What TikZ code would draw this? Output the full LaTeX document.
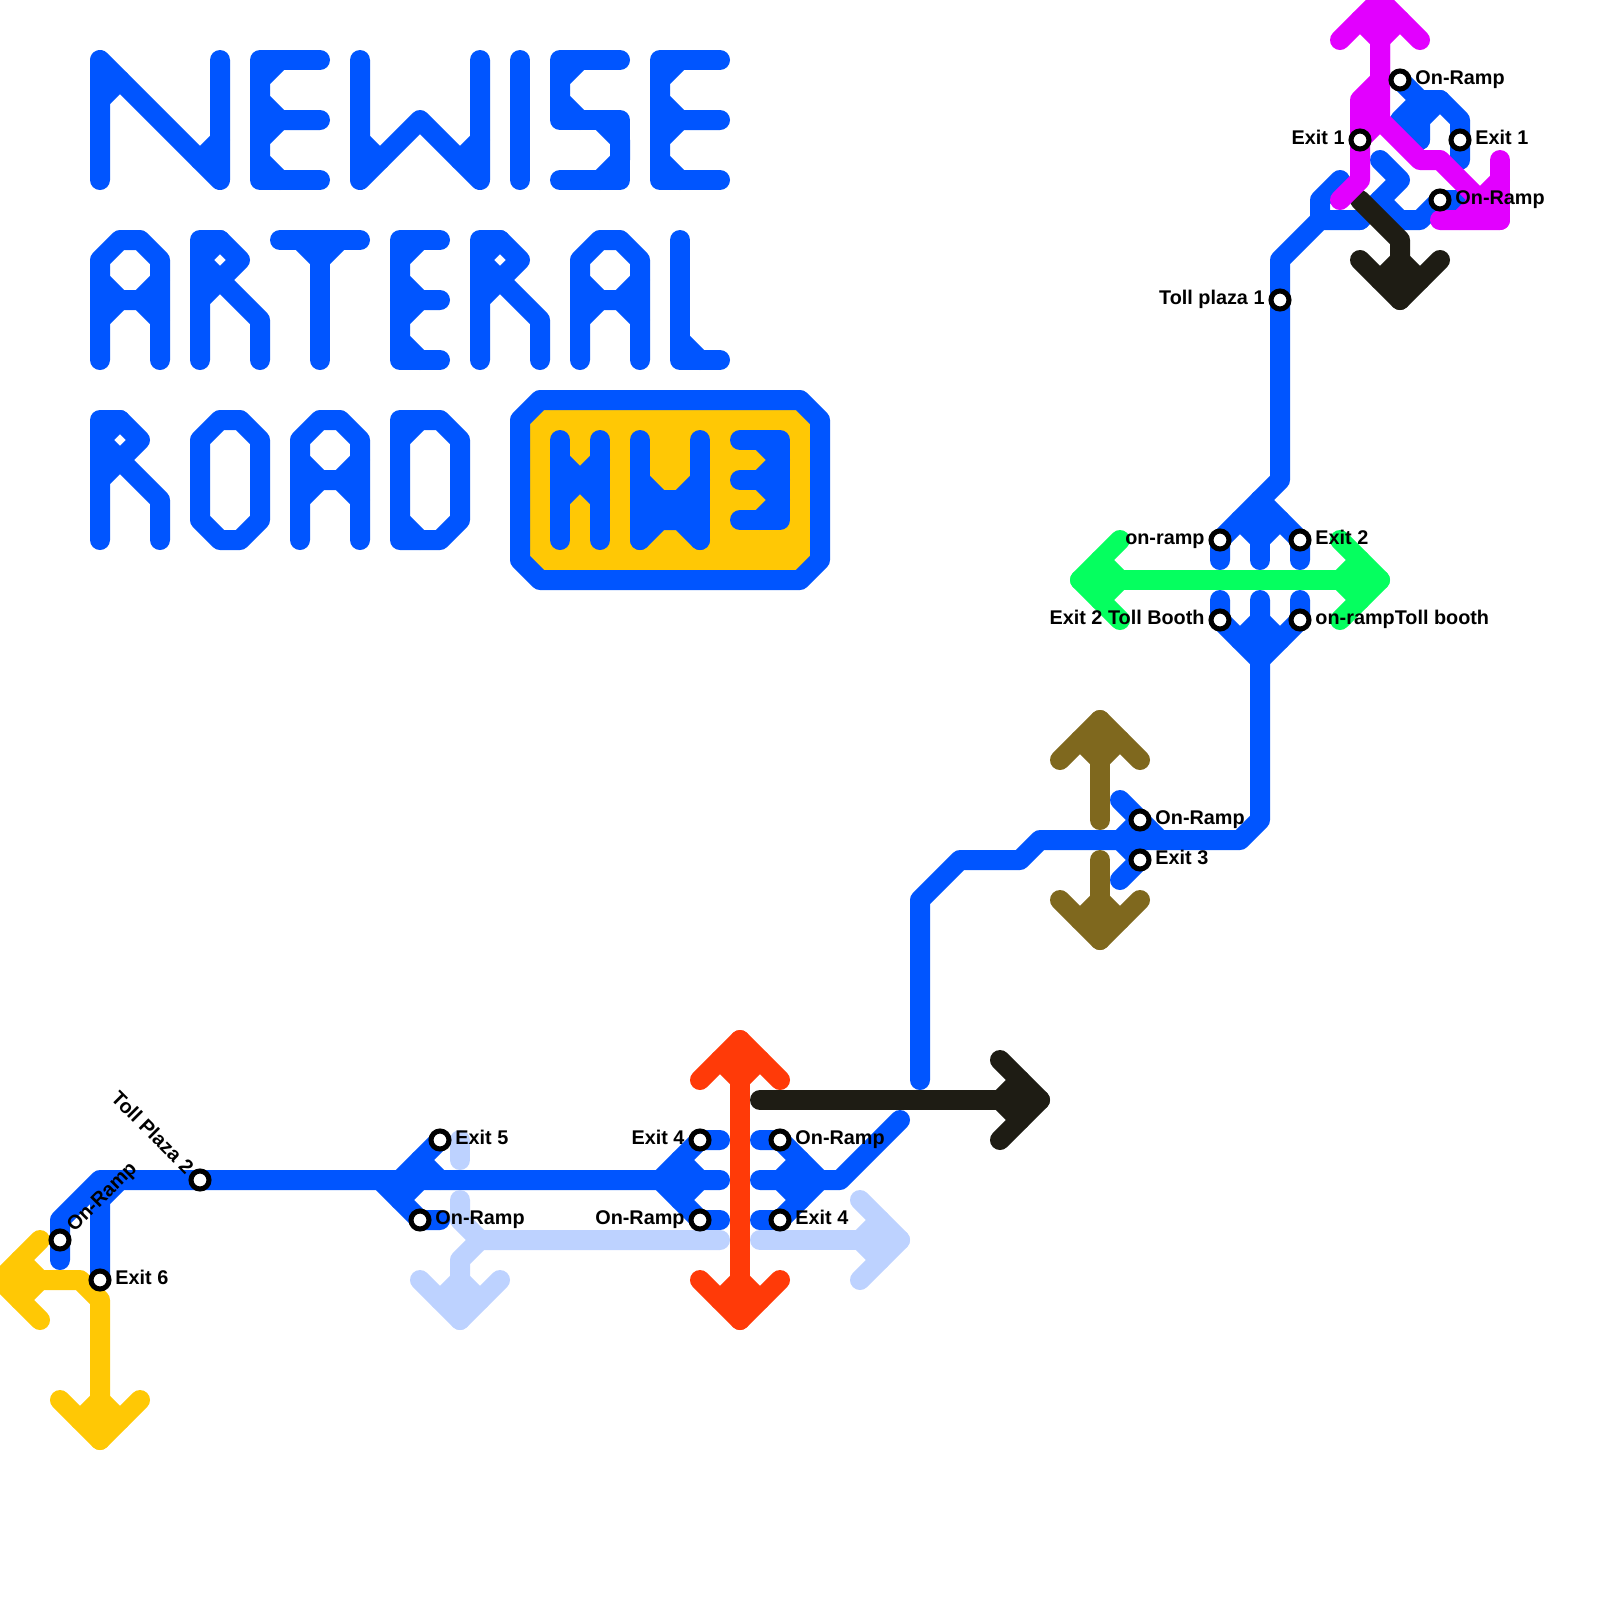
\documentclass[tikz,border=0pt]{standalone}
\usepackage{fontspec}
\setmainfont{Liberation Sans}
\definecolor{roadblue}{RGB}{0,85,255}
\definecolor{roadlight}{RGB}{189,210,255}
\definecolor{roadamber}{RGB}{255,200,5}
\definecolor{roadred}{RGB}{255,58,8}
\definecolor{roadgreen}{RGB}{5,255,95}
\definecolor{roadolive}{RGB}{127,104,30}
\definecolor{roaddark}{RGB}{30,28,20}
\definecolor{roadpink}{RGB}{226,0,255}
\tikzset{
  road/.style={line width=0.25cm,line cap=round,line join=round},
  stop/.style={circle,draw=black,fill=white,line width=1.8pt,minimum size=0.225cm,inner sep=0pt},
  stoplabel/.style={font=\fontsize{7.05pt}{8pt}\selectfont\bfseries,inner sep=0pt,text height=3.3pt,text depth=0pt},
  head/.pic={
    \draw[road] (-2,2)--(0,0)--(2,2);
    \draw[road] (-1,1)--(0,2)--(1,1);
  },
  letterN/.pic={
    \draw[road] (0,6)--(0,0)--(6,6)--(6,0);
    \draw[road] (0,2)--(1,1);
    \draw[road] (6,4)--(5,5);
  },
  pics/letterE/.style={code={
    \draw[road] (#1,0)--(0,0)--(0,6)--(#1,6);
    \draw[road] (1,0)--(0,1)--(0,2)--(1,3)--(#1,3);
    \draw[road] (1,3)--(0,4)--(0,5)--(1,6);
  }},
  letterW/.pic={
    \draw[road] (0,0)--(0,6)--(3,3)--(6,6)--(6,0);
    \draw[road] (0,4)--(1,5);
    \draw[road] (6,4)--(5,5);
  },
  letterI/.pic={\draw[road] (0,0)--(0,6);},
  letterS/.pic={
    \draw[road] (3,0)--(0,0)--(0,3)--(3,3)--(3,6)--(0,6);
    \draw[road] (1,0)--(0,1)--(0,2)--(1,3);
    \draw[road] (2,3)--(3,4)--(3,5)--(2,6);
  },
  letterA/.pic={
    \draw[road] (0,6)--(0,1)--(1,0)--(2,0)--(3,1)--(3,6);
    \draw[road] (0,2)--(1,3)--(2,3)--(3,2);
    \draw[road] (0,4)--(1,3);
    \draw[road] (2,3)--(3,4);
  },
  letterR/.pic={
    \draw[road] (0,6)--(0,0)--(1,0)--(2,1)--(0,3);
    \draw[road] (1,0)--(0,1)--(3,4)--(3,6);
  },
  letterT/.pic={
    \draw[road] (0,0)--(4,0);
    \draw[road] (2,6)--(2,1);
    \draw[road] (1,0)--(2,1)--(3,0);
  },
  letterL/.pic={
    \draw[road] (0,0)--(0,6)--(2,6);
    \draw[road] (0,5)--(1,6);
  },
  letterO/.pic={
    \draw[road] (1,0)--(2,0)--(3,1)--(3,5)--(2,6)--(1,6)--(0,5)--(0,1)--cycle;
  },
  letterD/.pic={
    \draw[road] (0,0)--(2,0)--(3,1)--(3,5)--(2,6)--(0,6)--cycle;
    \draw[road] (1,0)--(0,1);
    \draw[road] (0,5)--(1,6);
  },
}
\begin{document}
\begin{tikzpicture}[x=0.25cm,y=-0.25cm]
  \useasboundingbox (0,0) rectangle (80,80);
  % title
  \begin{scope}[color=roadblue]
    \pic at (5,3) {letterN};
    \pic at (13,3) {letterE=3};
    \pic at (18,3) {letterW};
    \pic at (26,3) {letterI};
    \pic at (28,3) {letterS};
    \pic at (33,3) {letterE=3};
    \pic at (5,12) {letterA};
    \pic at (10,12) {letterR};
    \pic at (14,12) {letterT};
    \pic at (20,12) {letterE=2};
    \pic at (24,12) {letterR};
    \pic at (29,12) {letterA};
    \pic at (34,12) {letterL};
    \pic at (5,21) {letterR};
    \pic at (10,21) {letterO};
    \pic at (15,21) {letterA};
    \pic at (20,21) {letterD};
    % shield
    \draw[road,fill=roadamber] (27,20)--(40,20)--(41,21)--(41,28)--(40,29)--(27,29)--(26,28)--(26,21)--cycle;
    \draw[road] (28,22)--(28,27);
    \draw[road] (30,22)--(30,27);
    \draw[road] (28,23)--(29,24)--(30,23);
    \draw[road] (28,25)--(29,24)--(30,25);
    \draw[road] (32,27)--(32,22);
    \draw[road] (35,27)--(35,22);
    \draw[road] (32,24)--(33,25)--(34,25)--(35,24);
    \draw[road] (32,27)--(33,26)--(34,26)--(35,27);
    \draw[road] (33,25)--(33,26);
    \draw[road] (34,25)--(34,26);
    \draw[road] (37,22)--(39,22)--(39,26)--(37,26);
    \draw[road] (37,24)--(39,24);
    \draw[road] (38,22)--(39,23)--(38,24)--(39,25)--(38,26);
  \end{scope}
  % stops
  \coordinate (R6) at (3,62);
  \coordinate (E6) at (5,64);
  \coordinate (T2) at (10,59);
  \coordinate (E5) at (22,57);
  \coordinate (R5) at (21,61);
  \coordinate (E4w) at (35,57);
  \coordinate (R4w) at (35,61);
  \coordinate (R4e) at (39,57);
  \coordinate (E4e) at (39,61);
  \coordinate (R3) at (57,41);
  \coordinate (E3) at (57,43);
  \coordinate (Rn) at (61,27);
  \coordinate (E2) at (65,27);
  \coordinate (B2w) at (61,31);
  \coordinate (B2e) at (65,31);
  \coordinate (T1) at (64,15);
  \coordinate (E1w) at (68,7);
  \coordinate (E1e) at (73,7);
  \coordinate (R1n) at (70,4);
  \coordinate (R1s) at (72,10);
  % blue road
  \begin{scope}[color=roadblue]
    \draw[road] (3,63)--(R6)--(3,61)--(5,59)--(T2)--(36,59);
    \draw[road] (E6)--(5,60)--(6,59);
    \draw[road] (E5)--(20,59);
    \draw[road] (21,58)--(22,59);
    \draw[road] (19,59)--(R5)--(22,61);
    \draw[road] (20,60)--(21,59);
    \draw[road] (36,57)--(E4w)--(33,59)--(R4w)--(36,61);
    \draw[road] (34,58)--(35,59)--(34,60);
    \draw[road] (38,57)--(R4e)--(41,59)--(E4e)--(38,61);
    \draw[road] (40,58)--(39,59)--(40,60);
    \draw[road] (38,59)--(42,59)--(45,56);
    \draw[road] (46,54)--(46,45)--(48,43)--(51,43)--(52,42)--(62,42)--(63,41)--(63,30);
    \draw[road] (56,40)--(R3)--(58,42);
    \draw[road] (R3)--(56,42)--(E3)--(56,44);
    \draw[road] (61,30)--(B2w)--(63,33)--(B2e)--(65,30);
    \draw[road] (62,32)--(63,31)--(64,32);
    \draw[road] (61,28)--(Rn)--(64,24)--(T1)--(64,13)--(66,11)--(68,11);
    \draw[road] (63,28)--(63,25);
    \draw[road] (62,26)--(63,27)--(64,26);
    \draw[road] (63,25)--(E2)--(65,28);
    \draw[road] (66,11)--(66,10)--(67,9);
    \draw[road] (69,8)--(70,9)--(68,11);
    \draw[road] (69,10)--(70,11)--(71,11)--(R1s)--(73,10);
    \draw[road] (R1n)--(71,5)--(72,5)--(73,6)--(E1e)--(73,8);
    \draw[road] (72,5)--(71,6)--(71,7);
    \draw[road] (71,5)--(70,6)--(71,7);
  \end{scope}
  % light blue road
  \begin{scope}[color=roadlight]
    \draw[road] (23,57)--(23,58);
    \draw[road] (23,60)--(23,61)--(24,62)--(36,62);
    \draw[road] (24,62)--(23,63)--(23,66);
    \pic[rotate=180] at (23,66) {head};
    \draw[road] (38,62)--(45,62);
    \pic[rotate=-90] at (45,62) {head};
  \end{scope}
  % olive road
  \begin{scope}[color=roadolive]
    \draw[road] (55,41)--(55,36);
    \pic at (55,36) {head};
    \draw[road] (55,43)--(55,47);
    \pic[rotate=180] at (55,47) {head};
  \end{scope}
  % green road
  \begin{scope}[color=roadgreen]
    \draw[road] (54,29)--(69,29);
    \pic[rotate=90] at (54,29) {head};
    \pic[rotate=-90] at (69,29) {head};
  \end{scope}
  % amber road
  \begin{scope}[color=roadamber]
    \draw[road] (0,64)--(4,64)--(5,65)--(5,72);
    \pic[rotate=90] at (0,64) {head};
    \pic[rotate=180] at (5,72) {head};
  \end{scope}
  % red road
  \begin{scope}[color=roadred]
    \draw[road] (37,52)--(37,66);
    \pic at (37,52) {head};
    \pic[rotate=180] at (37,66) {head};
  \end{scope}
  % dark road
  \begin{scope}[color=roaddark]
    \draw[road] (38,55)--(52,55);
    \pic[rotate=-90] at (52,55) {head};
    \draw[road] (68,10)--(70,12)--(70,15);
    \pic[rotate=180] at (70,15) {head};
  \end{scope}
  % pink road
  \begin{scope}[color=roadpink]
    \draw[road] (67,10)--(68,9)--(E1w)--(68,5)--(69,4)--(69,0);
    \pic at (69,0) {head};
    \draw[road] (69,0)--(69,6)--(71,8)--(72,8)--(75,11)--(72,11);
    \draw[road] (68,7)--(69,6);
    \draw[road] (75,8)--(75,11);
    \draw[road] (75,9)--(73,11);
  \end{scope}
  % stop markers and names
  \tikzset{every label/.style={stoplabel},label distance=1.2pt}
  \node[stop] (sR6) at (R6) {};
  \node[stop,label=right:Exit 6] (sE6) at (E6) {};
  \node[stop] (sT2) at (T2) {};
  \node[stop,label=right:Exit 5] (sE5) at (E5) {};
  \node[stop,label=right:On-Ramp] (sR5) at (R5) {};
  \node[stop,label=left:Exit 4] (sE4w) at (E4w) {};
  \node[stop,label=left:On-Ramp] (sR4w) at (R4w) {};
  \node[stop,label=right:On-Ramp] (sR4e) at (R4e) {};
  \node[stop,label=right:Exit 4] (sE4e) at (E4e) {};
  \node[stop,label=right:On-Ramp] (sR3) at (R3) {};
  \node[stop,label=right:Exit 3] (sE3) at (E3) {};
  \node[stop,label=left:on-ramp] (sRn) at (Rn) {};
  \node[stop,label=right:Exit 2] (sE2) at (E2) {};
  \node[stop,label=left:Exit 2 Toll Booth] (sB2w) at (B2w) {};
  \node[stop,label=right:on-rampToll booth] (sB2e) at (B2e) {};
  \node[stop,label=left:Toll plaza 1] (sT1) at (T1) {};
  \node[stop,label=left:Exit 1] (sE1w) at (E1w) {};
  \node[stop,label=right:Exit 1] (sE1e) at (E1e) {};
  \node[stop,label=right:On-Ramp] (sR1n) at (R1n) {};
  \node[stop,label=right:On-Ramp] (sR1s) at (R1s) {};
  \node[stoplabel,rotate=45,anchor=west] (lR6) at (3.55,61.5) {On-Ramp};
  \node[stoplabel,rotate=-45,anchor=east] (lT2) at (9.45,58.6) {Toll Plaza 2};
\end{tikzpicture}
\end{document}
